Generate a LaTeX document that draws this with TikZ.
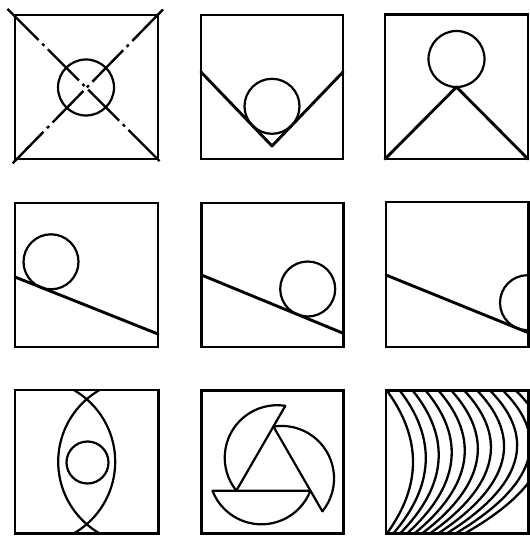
\documentclass[tikz,border=0pt]{standalone}
\usetikzlibrary{calc}
\begin{document}
\begin{tikzpicture}[x=1bp,y=-1bp,
  frame/.style={line width=2.6bp, line join=miter},
  slopeline/.style={line width=2.9bp, line cap=round, line join=round},
  ring/.style={line width=2.2bp},
  dashdot/.style={line width=2.4bp, dash pattern=on 44bp off 5bp on 3bp off 5bp},
  fan/.style={line width=2.3bp}]
\useasboundingbox (0,0) rectangle (530,536);
\fill[white] (0,0) rectangle (530,536);

% ---- box 1: circle with dash-dot diagonals
\draw[ring] (86,87.5) circle[radius=28];
\draw[dashdot] (7.5,9) -- (163,164.5);
\draw[dashdot] (163,9.5) -- (12,164);

% ---- box 2: circle in a V
\draw[slopeline] (201,72) -- (272,146) -- (343,72);
\draw[ring] (272,106.3) circle[radius=27.5];

% ---- box 3: circle on a peak
\draw[ring] (456.5,59) circle[radius=28];
\draw[slopeline] (385,159) -- (456.5,87) -- (528,159);

% ---- box 4: ball at top of slope
\draw[slopeline] (15,277) -- (158,334);
\draw[ring] (51,261.8) circle[radius=27.5];

% ---- box 5: ball lower on slope
\draw[slopeline] (201.5,275) -- (343.3,333.3);
\draw[ring] (307.7,289) circle[radius=27.5];

% ---- box 6: ball leaving the frame
\draw[slopeline] (386,275) -- (528.3,332.7);
\begin{scope}
  \clip (386,202) rectangle (528.3,347);
  \draw[ring] (527.5,302.7) circle[radius=27.5];
\end{scope}

% ---- box 7: lens with circle
\begin{scope}
  \clip (15,390) rectangle (158.3,533.3);
  \draw[ring] (141,461.7) circle[radius=82.8];
  \draw[ring] (32.4,461.7) circle[radius=82.8];
\end{scope}
\draw[ring] (87.5,462.5) circle[radius=21];

% ---- box 8: pinwheel
\foreach \r in {0,120,240}{
  \begin{scope}[rotate around={\r:(273.4,469.3)}]
    \draw[ring, line join=round] (212.4,490.7) -- (310.4,490.7)
      arc[start angle=21.1, end angle=158.9, radius=52.5] -- cycle;
  \end{scope}
}

% ---- box 9: fan of arcs
\begin{scope}
  \clip (386,390.7) rectangle (528.3,533.3);
  \foreach \k in {0,...,10}{
    \pgfmathsetmacro\xt{387+12.9*\k}
    \pgfmathsetmacro\xm{413+12.7*\k}
    \pgfmathsetmacro\xb{387+6.3*\k+0.15*\k*\k}
    \pgfmathsetmacro\px{2*\xm-(\xt+\xb)/2}
    \pgfmathsetmacro\ax{\xt+2/3*(\px-\xt)}
    \pgfmathsetmacro\ay{390.7+2/3*(462-390.7)}
    \pgfmathsetmacro\bx{\xb+2/3*(\px-\xb)}
    \pgfmathsetmacro\by{533.3+2/3*(462-533.3)}
    \draw[fan] (\xt,390.7) .. controls (\ax,\ay) and (\bx,\by) .. (\xb,533.3);
  }
\end{scope}

% ---- frames
\draw[frame] (15,15) rectangle (158,159);
\draw[frame] (201,15) rectangle (343,159);
\draw[frame] (385,14.5) rectangle (528,159);
\draw[frame] (15,203) rectangle (158,347);
\draw[frame] (201.5,203) rectangle (343.3,347);
\draw[frame] (386,202) rectangle (528.3,347);
\draw[frame] (15,390) rectangle (158.3,533.3);
\draw[frame] (201.7,390.7) rectangle (343.3,533.3);
\draw[frame] (386,390.7) rectangle (528.3,533.3);
\end{tikzpicture}
\end{document}
